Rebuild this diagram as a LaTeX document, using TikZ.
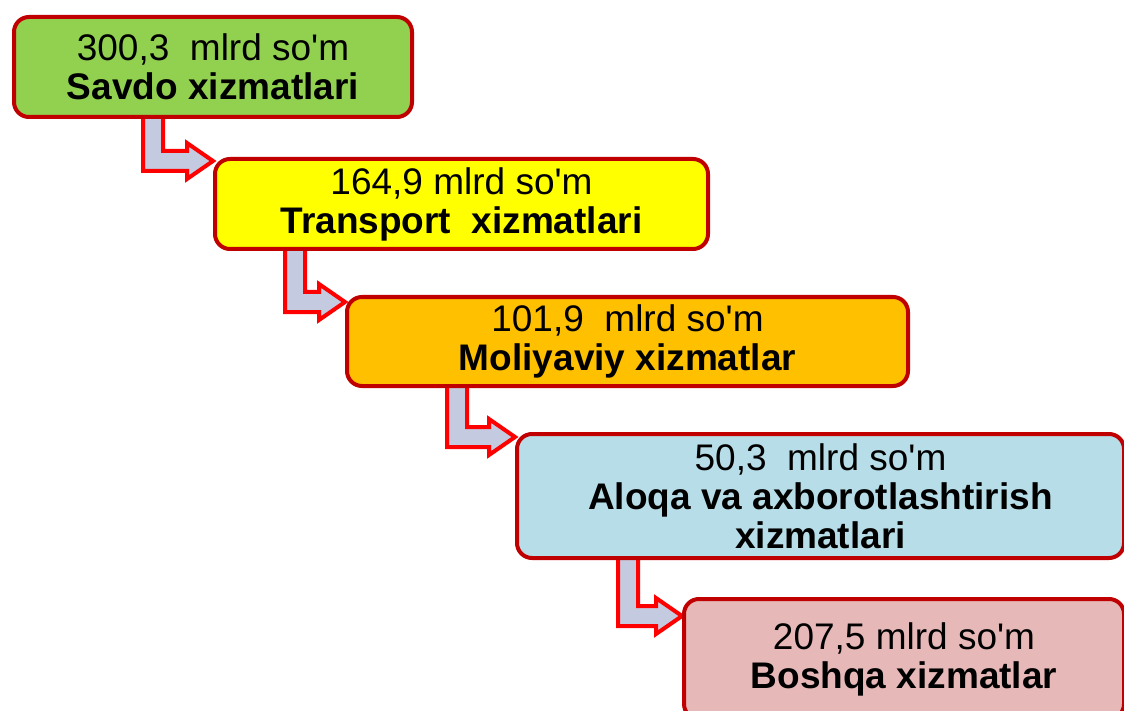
\documentclass[tikz,border=0pt]{standalone}
\usepackage{fontspec}
\newfontfamily\boxfont{Liberation Sans}
\usepackage{xcolor}
\usetikzlibrary{positioning, calc, backgrounds}

\definecolor{savdogreen}{RGB}{146,208,80}
\definecolor{transyellow}{RGB}{255,255,0}
\definecolor{moliyaorange}{RGB}{255,192,0}
\definecolor{aloqablue}{RGB}{183,222,232}
\definecolor{boshqapink}{RGB}{230,185,184}
\definecolor{boxborder}{RGB}{192,0,0}
\definecolor{arrowred}{RGB}{255,0,0}
\definecolor{arrowfill}{RGB}{196,203,224}

\begin{document}
\begin{tikzpicture}[x=1pt, y=-1pt,
  every node/.style={font=\boxfont\fontsize{37}{39}\selectfont},
  sector/.style={draw=boxborder, line width=4pt, rounded corners=15pt, anchor=north west, align=center, inner sep=0pt},
  bentarrow/.style={draw=arrowred, fill=arrowfill, line width=4pt, line join=miter,
    to path={let \p1=(\tikztostart), \p2=(\tikztotarget) in
      (\x1,\y1) -- (\x1,\y2-10pt) -- (\x2-26pt,\y2-10pt) -- (\x2-26pt,\y2-18pt) -- (\x2,\y2)
      -- (\x2-26pt,\y2+18pt) -- (\x2-26pt,\y2+10pt) -- (\x1+20pt,\y2+10pt) -- (\x1+20pt,\y1) -- cycle}}]
\useasboundingbox (0,0) rectangle (1124,711);

\node (savdo) [sector, fill=savdogreen, minimum width=398pt, minimum height=100pt] at (12,15) {300,3\ \ mlrd so'm\\\textbf{Savdo xizmatlari}};
\node (transport) [sector, fill=transyellow, minimum width=493pt, minimum height=90pt] at (213,157) {164,9 mlrd so'm\\\textbf{Transport\ \ xizmatlari}};
\node (moliya) [sector, fill=moliyaorange, minimum width=561pt, minimum height=89pt] at (345,295) {101,9\ \ mlrd so'm\\\textbf{Moliyaviy xizmatlar}};
\node (aloqa) [sector, fill=aloqablue, minimum width=607pt, minimum height=124pt] at (515,432) {50,3\ \ mlrd so'm\\\textbf{Aloqa va axborotlashtirish}\\\textbf{xizmatlari}};
\node (boshqa) [sector, fill=boshqapink, minimum width=440pt, minimum height=120pt] at (682,597) {207,5 mlrd so'm\\\textbf{Boshqa xizmatlar}};

\begin{scope}[on background layer]
\draw[bentarrow] ($(savdo.south west)+(131,-4)$) to ($(transport.north west)+(0,4)$);
\draw[bentarrow] ($(transport.south west)+(72,-4)$) to ($(moliya.north west)+(0,7)$);
\draw[bentarrow] ($(moliya.south west)+(102,-4)$) to ($(aloqa.north west)+(0,5)$);
\draw[bentarrow] ($(aloqa.south west)+(103,-4)$) to ($(boshqa.north west)+(0,19)$);
\end{scope}
\end{tikzpicture}
\end{document}
